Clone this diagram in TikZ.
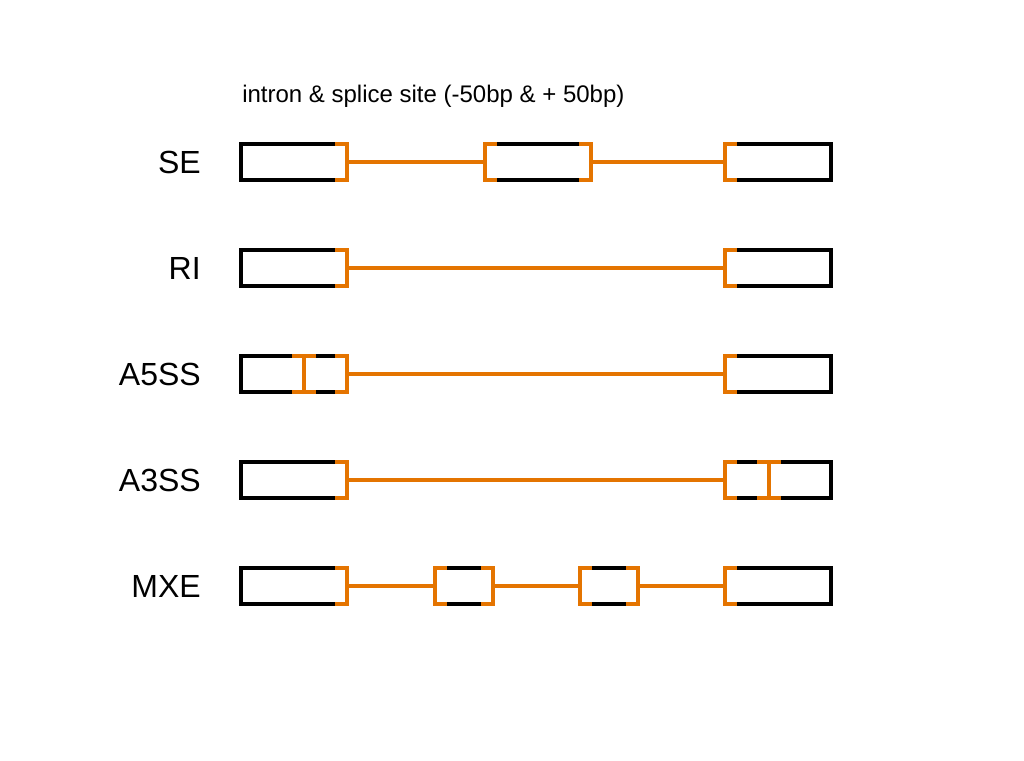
\documentclass[tikz,border=0pt]{standalone}
\usepackage{fontspec}
\setmainfont{Liberation Sans}
\usepackage{tikz}

\definecolor{siteorange}{RGB}{228,116,0}

\begin{document}
\begin{tikzpicture}[x=0.75pt,y=0.75pt,yscale=-1,xscale=1,
  exon/.style={draw=black, line width=3pt, minimum width=79.5pt, minimum height=27pt, inner sep=0pt, outer sep=0pt},
  shortexon/.style={exon, minimum width=43.5pt},
  intron/.style={draw=siteorange, line width=3pt},
  site/.style={draw=siteorange, line width=3pt, line join=miter},
  rowlabel/.style={anchor=east, inner sep=0pt, font=\fontsize{24}{28}\selectfont}]
\useasboundingbox (0,0) rectangle (1024,760);

% Title
\node (title) [anchor=west, inner sep=0pt, font=\fontsize{18}{22}\selectfont] at (242,96) {intron \& splice site (-50bp \& + 50bp)};

% Row labels
\node (lse) [rowlabel] at (201,162) {SE};
\node (lri) [rowlabel] at (201,268) {RI};
\node (la5) [rowlabel] at (201,374) {A5SS};
\node (la3) [rowlabel] at (201,480) {A3SS};
\node (lmxe) [rowlabel] at (201,586) {MXE};

% Exons
\node (se1) [exon] at (294,162) {};
\node (se2) [exon] at (538,162) {};
\node (se3) [exon] at (778,162) {};
\node (ri1) [exon] at (294,268) {};
\node (ri2) [exon] at (778,268) {};
\node (a5ss1) [exon] at (294,374) {};
\node (a5ss2) [exon] at (778,374) {};
\node (a3ss1) [exon] at (294,480) {};
\node (a3ss2) [exon] at (778,480) {};
\node (mxe1) [exon] at (294,586) {};
\node (mxe2) [shortexon] at (464,586) {};
\node (mxe3) [shortexon] at (609,586) {};
\node (mxe4) [exon] at (778,586) {};

% Introns
\draw [intron] (se1.east) -- (se2.west);
\draw [intron] (se2.east) -- (se3.west);
\draw [intron] (ri1.east) -- (ri2.west);
\draw [intron] (a5ss1.east) -- (a5ss2.west);
\draw [intron] (a3ss1.east) -- (a3ss2.west);
\draw [intron] (mxe1.east) -- (mxe2.west);
\draw [intron] (mxe2.east) -- (mxe3.west);
\draw [intron] (mxe3.east) -- (mxe4.west);

% Splice sites (5' end of intron)
\foreach \n in {se1,se2,ri1,a5ss1,a3ss1,mxe1,mxe2,mxe3}
  \draw [site] ([xshift=-9pt]\n.north east) -- (\n.north east) -- (\n.south east) -- ([xshift=-9pt]\n.south east);
% Splice sites (3' end of intron)
\foreach \n in {se2,se3,ri2,a5ss2,a3ss2,mxe2,mxe3,mxe4}
  \draw [site] ([xshift=9pt]\n.north west) -- (\n.north west) -- (\n.south west) -- ([xshift=9pt]\n.south west);

% Alternative splice sites
\coordinate (alt5) at (304,374);
\coordinate (alt3) at (769,480);
\draw [site] ([xshift=-9pt]a5ss1.north -| alt5) -- ([xshift=9pt]a5ss1.north -| alt5);
\draw [site] (a5ss1.north -| alt5) -- (a5ss1.south -| alt5);
\draw [site] ([xshift=-9pt]a5ss1.south -| alt5) -- ([xshift=9pt]a5ss1.south -| alt5);
\draw [site] ([xshift=-9pt]a3ss2.north -| alt3) -- ([xshift=9pt]a3ss2.north -| alt3);
\draw [site] (a3ss2.north -| alt3) -- (a3ss2.south -| alt3);
\draw [site] ([xshift=-9pt]a3ss2.south -| alt3) -- ([xshift=9pt]a3ss2.south -| alt3);

\end{tikzpicture}
\end{document}
